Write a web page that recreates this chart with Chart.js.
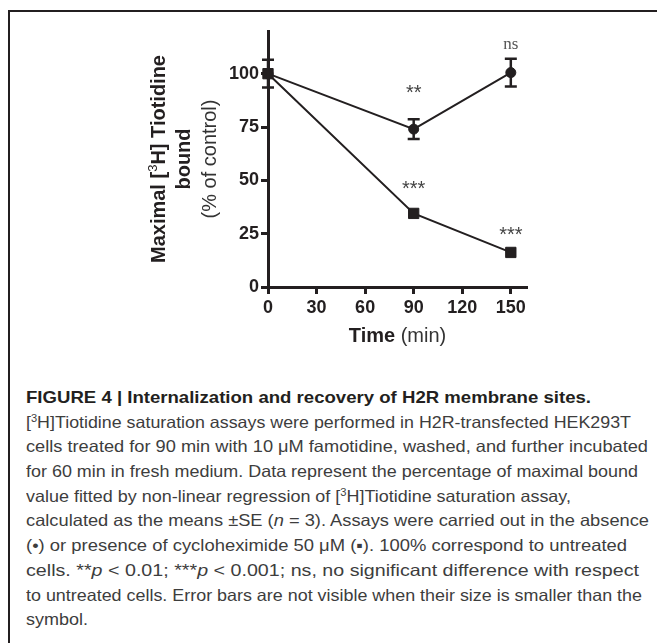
<!DOCTYPE html>
<html>
<head>
<meta charset="utf-8">
<script src="https://cdn.jsdelivr.net/npm/chart.js@4.4.1/dist/chart.umd.min.js"></script>
<style>
  html, body { margin: 0; padding: 0; background: #fff; }
  body { width: 657px; height: 643px; position: relative; overflow: hidden; font-family: 'Liberation Sans', Arial, sans-serif; }
  .frame { position: absolute; left: 8px; top: 10px; right: -20px; bottom: -20px; border-top: 2px solid #231f20; border-left: 2px solid #231f20; }
  .chart-box { position: absolute; left: 0; top: 0; width: 657px; height: 370px; }
  .caption { position: absolute; left: 26px; top: 385px; font-size: 16.5px; line-height: 24.7px; color: #3d3d3d; }
  .caption .ln { white-space: nowrap; height: 24.7px; }
  .caption .ln span.fit { display: inline-block; transform-origin: 0 50%; }
  .caption .ttl { font-weight: bold; color: #231f20; }
  .caption sup { font-size: 0.62em; vertical-align: 0; position: relative; top: -0.55em; line-height: 0; }
</style>
</head>
<body>
<div class="frame"></div>
<div class="chart-box"><canvas id="bindingChart"></canvas></div>
<div class="caption">
  <div class="ln" data-w="565"><span class="fit ttl">FIGURE 4 | Internalization and recovery of H2R membrane sites.</span></div>
  <div class="ln" data-w="605"><span class="fit">[<sup>3</sup>H]Tiotidine saturation assays were performed in H2R-transfected HEK293T</span></div>
  <div class="ln" data-w="622"><span class="fit">cells treated for 90 min with 10 μM famotidine, washed, and further incubated</span></div>
  <div class="ln" data-w="612"><span class="fit">for 60 min in fresh medium. Data represent the percentage of maximal bound</span></div>
  <div class="ln" data-w="545"><span class="fit">value fitted by non-linear regression of [<sup>3</sup>H]Tiotidine saturation assay,</span></div>
  <div class="ln" data-w="623"><span class="fit">calculated as the means ±SE (<i>n</i> = 3). Assays were carried out in the absence</span></div>
  <div class="ln" data-w="601"><span class="fit">(•) or presence of cycloheximide 50 μM (▪). 100% correspond to untreated</span></div>
  <div class="ln" data-w="613"><span class="fit">cells. **<i>p</i> &lt; 0.01; ***<i>p</i> &lt; 0.001; ns, no significant difference with respect</span></div>
  <div class="ln" data-w="616"><span class="fit">to untreated cells. Error bars are not visible when their size is smaller than the</span></div>
  <div class="ln" data-w="62"><span class="fit">symbol.</span></div>
</div>
<script>
const timePoints = [0, 90, 150];
const controlMean = [100, 74, 100.5];
const controlSE = [6.5, 4.6, 6.5];
const chxMean = [100, 34.5, 16.2];
const chxSE = [0, 0, 0];
const xTicks = [0, 30, 60, 90, 120, 150];
const yTicks = [0, 25, 50, 75, 100];
const sigLabels = ['**', 'ns', '***', '***'];
const sigX = [90, 150, 90, 150];
const sigY = [93, 113.6, 47.8, 26.2];

const ink = '#231f20';
const sans = '"Liberation Sans", Arial, sans-serif';

function fitCaption() {
  document.querySelectorAll('.caption .ln').forEach((ln) => {
    const span = ln.querySelector('.fit');
    const target = Number(ln.dataset.w);
    const w = span.getBoundingClientRect().width;
    if (w > 0) span.style.transform = `scaleX(${target / w})`;
  });
}

const errorBarPlugin = {
  id: 'errorBars',
  afterDatasetsDraw(chart) {
    const { ctx, scales } = chart;
    ctx.save();
    ctx.strokeStyle = ink;
    chart.data.datasets.forEach((ds) => {
      (ds.errors || []).forEach((se, i) => {
        if (!se) return;
        const x = scales.x.getPixelForValue(ds.data[i].x);
        const yTop = scales.y.getPixelForValue(ds.data[i].y + se);
        const yBot = scales.y.getPixelForValue(ds.data[i].y - se);
        ctx.lineWidth = 2.5;
        ctx.beginPath();
        ctx.moveTo(x, yTop);
        ctx.lineTo(x, yBot);
        ctx.moveTo(x - 6, yTop);
        ctx.lineTo(x + 6, yTop);
        ctx.moveTo(x - 6, yBot);
        ctx.lineTo(x + 6, yBot);
        ctx.stroke();
      });
    });
    ctx.restore();
  },
};

const sigPlugin = {
  id: 'sigMarks',
  afterDatasetsDraw(chart) {
    const { ctx, scales } = chart;
    ctx.save();
    ctx.textAlign = 'center';
    ctx.textBaseline = 'alphabetic';
    sigLabels.forEach((txt, i) => {
      const serif = txt === 'ns';
      ctx.font = serif ? '17px "Liberation Serif", serif' : `20px ${sans}`;
      ctx.fillStyle = serif ? '#555' : '#444';
      const m = ctx.measureText(txt);
      const cx = scales.x.getPixelForValue(sigX[i]);
      const cy = scales.y.getPixelForValue(sigY[i]);
      ctx.fillText(txt, cx, cy + (m.actualBoundingBoxAscent - m.actualBoundingBoxDescent) / 2);
    });
    ctx.restore();
  },
};

// draws a row of [text, font, color, raise] pieces centred on 0
function drawPieces(ctx, pieces) {
  let total = 0;
  pieces.forEach((p) => { ctx.font = p[1]; total += ctx.measureText(p[0]).width; });
  let x = -total / 2;
  pieces.forEach((p) => {
    ctx.font = p[1];
    ctx.fillStyle = p[2];
    ctx.fillText(p[0], x, -(p[3] || 0));
    x += ctx.measureText(p[0]).width;
  });
}

const axisTitlePlugin = {
  id: 'axisTitles',
  afterDraw(chart) {
    const { ctx, chartArea } = chart;
    const bold = `bold 20px ${sans}`;
    const reg = `20px ${sans}`;
    ctx.save();
    ctx.textAlign = 'left';
    ctx.textBaseline = 'alphabetic';

    // x title
    ctx.save();
    ctx.translate((chartArea.left + chartArea.right) / 2, chartArea.bottom + 55);
    drawPieces(ctx, [['Time', bold, ink], [' (min)', reg, '#333']]);
    ctx.restore();

    // y title, three rotated lines
    const cy = (chartArea.top + chartArea.bottom) / 2;
    const rows = [
      [-103, [['Maximal [', bold, ink], ['3', `13px ${sans}`, ink, 8], ['H] Tiotidine', bold, ink]]],
      [-78, [['bound', bold, ink]]],
      [-52, [['(% of control)', reg, '#333']]],
    ];
    rows.forEach(([dx, pieces]) => {
      ctx.save();
      ctx.translate(chartArea.left + dx, cy);
      ctx.rotate(-Math.PI / 2);
      drawPieces(ctx, pieces);
      ctx.restore();
    });
    ctx.restore();
  },
};

function startChart() {
  const canvas = document.getElementById('bindingChart');
  const tickFont = { family: sans, size: 18, weight: 'bold' };
  const axisGrid = { drawOnChartArea: false, drawTicks: true, tickLength: 7, tickWidth: 3, tickColor: ink };
  const axisBorder = { display: true, width: 3, color: ink };

  new Chart(canvas, {
    type: 'line',
    data: {
      datasets: [
        {
          label: 'Cycloheximide',
          data: timePoints.map((t, i) => ({ x: t, y: chxMean[i] })),
          errors: chxSE,
          borderColor: ink,
          backgroundColor: ink,
          borderWidth: 2,
          pointStyle: 'rect',
          pointRadius: 7.3,
          pointBorderWidth: 1,
          tension: 0,
          clip: false,
        },
        {
          label: 'Control',
          data: timePoints.map((t, i) => ({ x: t, y: controlMean[i] })),
          errors: controlSE,
          borderColor: ink,
          backgroundColor: ink,
          borderWidth: 2,
          pointStyle: 'circle',
          pointRadius: 5,
          pointBorderWidth: 1,
          tension: 0,
          clip: false,
        },
      ],
    },
    options: {
      responsive: true,
      maintainAspectRatio: false,
      animation: false,
      layout: { padding: { left: 208, right: 130, top: 31, bottom: 23 } },
      plugins: { legend: { display: false }, tooltip: { enabled: false } },
      scales: {
        x: {
          type: 'linear',
          min: 0,
          max: 160,
          afterBuildTicks: (axis) => { axis.ticks = xTicks.map((v) => ({ value: v })); },
          afterFit: (axis) => { axis.height = 60; },
          grid: axisGrid,
          border: axisBorder,
          ticks: { color: ink, font: tickFont, padding: 3, maxRotation: 0, autoSkip: false },
        },
        y: {
          min: 0,
          max: 120,
          afterBuildTicks: (axis) => { axis.ticks = yTicks.map((v) => ({ value: v })); },
          afterFit: (axis) => { axis.width = 60; },
          grid: axisGrid,
          border: axisBorder,
          ticks: { color: ink, font: tickFont, padding: 2, autoSkip: false },
        },
      },
    },
    plugins: [errorBarPlugin, sigPlugin, axisTitlePlugin],
  });
}

document.addEventListener('DOMContentLoaded', () => {
  fitCaption();
  startChart();
});
</script>
</body>
</html>
